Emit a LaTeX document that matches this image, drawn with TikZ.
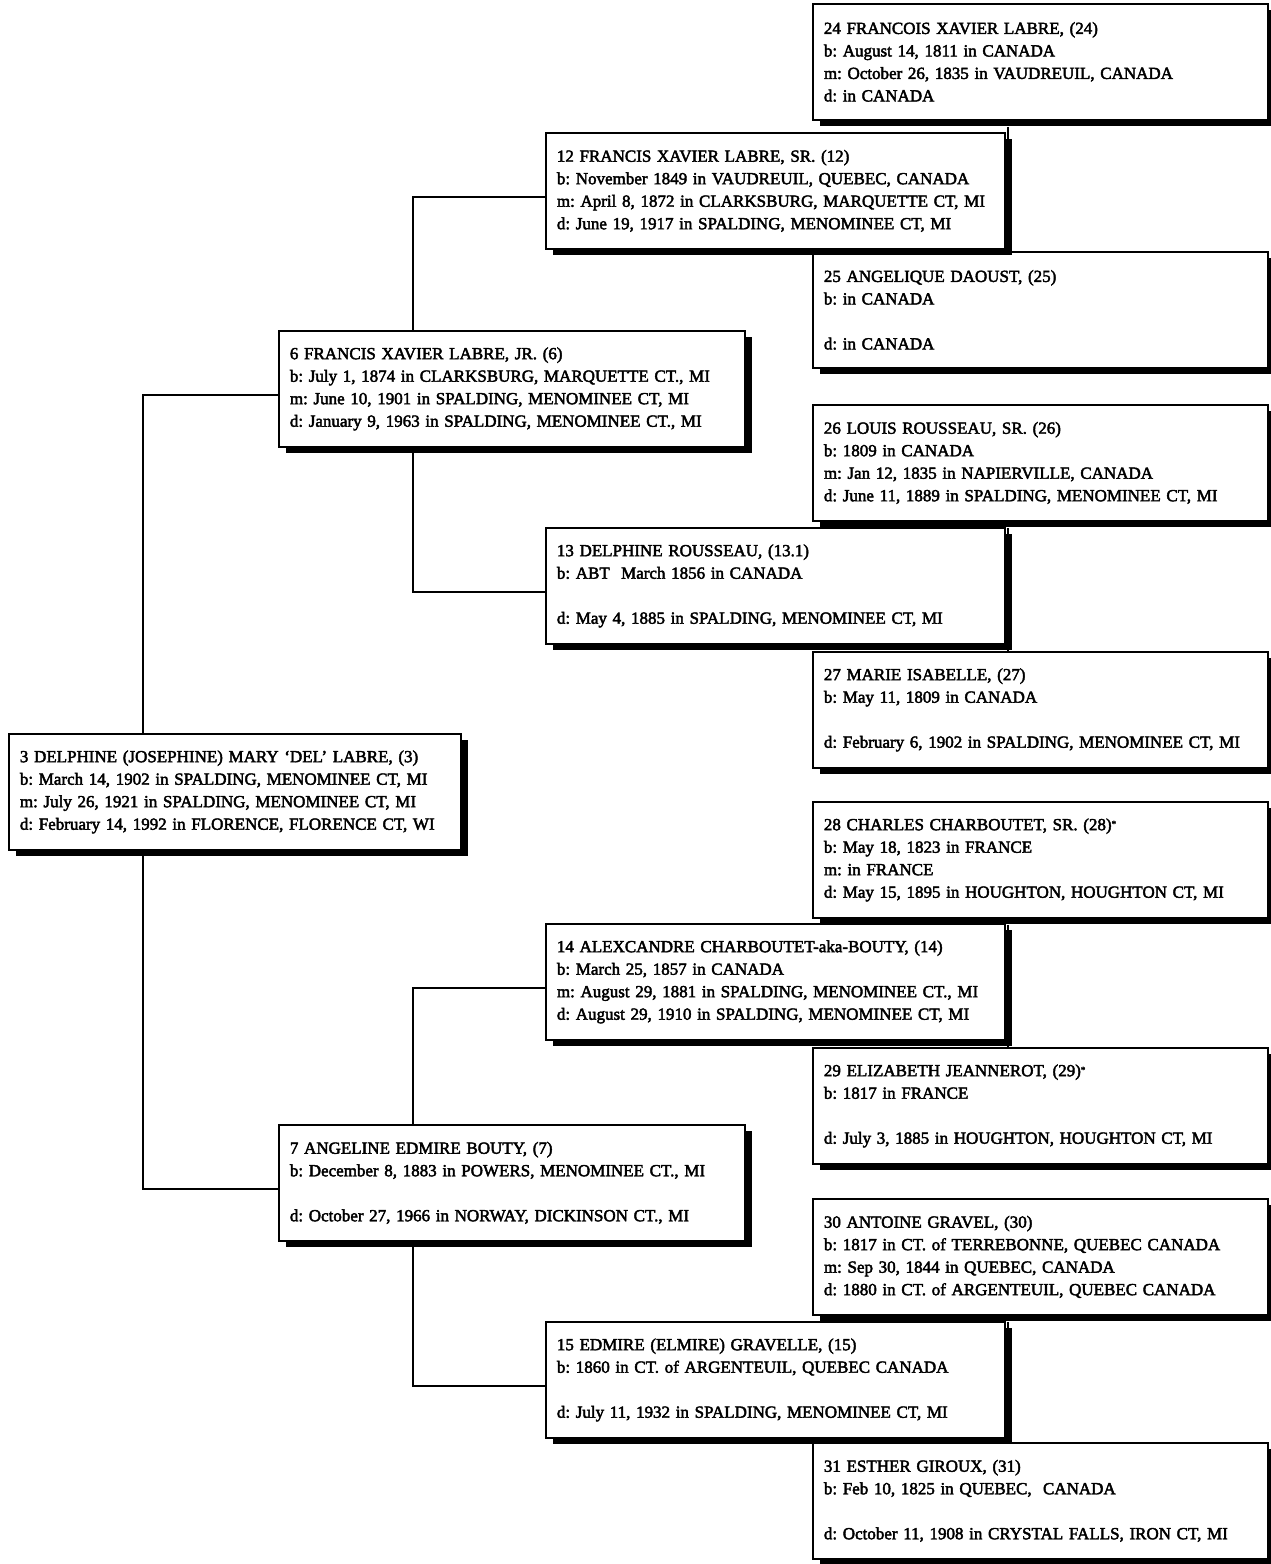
\documentclass[tikz,border=0pt]{standalone}
\usepackage{fontspec}
\usetikzlibrary{shadows,calc}
\newfontfamily\boxfont{Liberation Serif}[FakeBold=2.5]
\frenchspacing
\begin{document}
\begin{tikzpicture}[x=1pt,y=-1pt,
  pbox/.style={draw, line width=1.8pt, fill=white, anchor=north west,
    inner xsep=11pt, inner ysep=0pt, align=left, minimum height=116pt,
    font={\boxfont\frenchspacing\fontsize{17}{22.5}\selectfont},
    drop shadow={shadow xshift=7pt, shadow yshift=-6pt, opacity=1, fill=black}},
  colA/.style={pbox, text width=430pt},
  colB/.style={pbox, text width=444pt},
  colC/.style={pbox, text width=437pt},
  colD/.style={pbox, text width=433pt},
  conn/.style={line width=1.8pt}]
\useasboundingbox (0,0) rectangle (1271,1564);
\fill[white] (0,0) rectangle (1271,1564);

\coordinate (tA) at (143,0);
\coordinate (tB) at (413,0);
\coordinate (tC) at (1008,0);

\node[colD] (n24) at (812,3) {24 FRANCOIS XAVIER LABRE, (24)\\b: August 14, 1811 in CANADA\\m: October 26, 1835 in VAUDREUIL, CANADA\\d: in CANADA};
\node[colD] (n25) at (812,251) {25 ANGELIQUE DAOUST, (25)\\b: in CANADA\\\mbox{}\\d: in CANADA};
\node[colD] (n26) at (812,404) {26 LOUIS ROUSSEAU, SR. (26)\\b: 1809 in CANADA\\m: Jan 12, 1835 in NAPIERVILLE, CANADA\\d: June 11, 1889 in SPALDING, MENOMINEE CT, MI};
\node[colD] (n27) at (812,651) {27 MARIE ISABELLE, (27)\\b: May 11, 1809 in CANADA\\\mbox{}\\d: February 6, 1902 in SPALDING, MENOMINEE CT, MI};
\node[colD] (n28) at (812,801) {28 CHARLES CHARBOUTET, SR. (28)\raisebox{0.45ex}{\small *}\\b: May 18, 1823 in FRANCE\\m: in FRANCE\\d: May 15, 1895 in HOUGHTON, HOUGHTON CT, MI};
\node[colD] (n29) at (812,1047) {29 ELIZABETH JEANNEROT, (29)\raisebox{0.45ex}{\small *}\\b: 1817 in FRANCE\\\mbox{}\\d: July 3, 1885 in HOUGHTON, HOUGHTON CT, MI};
\node[colD] (n30) at (812,1198) {30 ANTOINE GRAVEL, (30)\\b: 1817 in CT. of TERREBONNE, QUEBEC CANADA\\m: Sep 30, 1844 in QUEBEC, CANADA\\d: 1880 in CT. of ARGENTEUIL, QUEBEC CANADA};
\node[colD] (n31) at (812,1442) {31 ESTHER GIROUX, (31)\\b: Feb 10, 1825 in QUEBEC,\ \ CANADA\\\mbox{}\\d: October 11, 1908 in CRYSTAL FALLS, IRON CT, MI};

\draw[conn] ([yshift=-6pt]n24.south -| tC) -- (n25.north -| tC);
\draw[conn] ([yshift=-6pt]n26.south -| tC) -- (n27.north -| tC);
\draw[conn] ([yshift=-6pt]n28.south -| tC) -- (n29.north -| tC);
\draw[conn] ([yshift=-6pt]n30.south -| tC) -- (n31.north -| tC);

\node[colC] (n12) at (545,132) {12 FRANCIS XAVIER LABRE, SR. (12)\\b: November 1849 in VAUDREUIL, QUEBEC, CANADA\\m: April 8, 1872 in CLARKSBURG, MARQUETTE CT, MI\\d: June 19, 1917 in SPALDING, MENOMINEE CT, MI};
\node[colC] (n13) at (545,527) {13 DELPHINE ROUSSEAU, (13.1)\\b: ABT\ \ March 1856 in CANADA\\\mbox{}\\d: May 4, 1885 in SPALDING, MENOMINEE CT, MI};
\node[colC] (n14) at (545,923) {14 ALEXCANDRE CHARBOUTET-aka-BOUTY, (14)\\b: March 25, 1857 in CANADA\\m: August 29, 1881 in SPALDING, MENOMINEE CT., MI\\d: August 29, 1910 in SPALDING, MENOMINEE CT, MI};
\node[colC] (n15) at (545,1321) {15 EDMIRE (ELMIRE) GRAVELLE, (15)\\b: 1860 in CT. of ARGENTEUIL, QUEBEC CANADA\\\mbox{}\\d: July 11, 1932 in SPALDING, MENOMINEE CT, MI};

\node[colB] (n6) at (278,330) {6 FRANCIS XAVIER LABRE, JR. (6)\\b: July 1, 1874 in CLARKSBURG, MARQUETTE CT., MI\\m: June 10, 1901 in SPALDING, MENOMINEE CT, MI\\d: January 9, 1963 in SPALDING, MENOMINEE CT., MI};
\node[colB] (n7) at (278,1124) {7 ANGELINE EDMIRE BOUTY, (7)\\b: December 8, 1883 in POWERS, MENOMINEE CT., MI\\\mbox{}\\d: October 27, 1966 in NORWAY, DICKINSON CT., MI};

\node[colA] (n3) at (8,733) {3 DELPHINE (JOSEPHINE) MARY ‘DEL’ LABRE, (3)\\b: March 14, 1902 in SPALDING, MENOMINEE CT, MI\\m: July 26, 1921 in SPALDING, MENOMINEE CT, MI\\d: February 14, 1992 in FLORENCE, FLORENCE CT, WI};

\draw[conn] ([yshift=-6pt]n12.west) -| (n6.north -| tB);
\draw[conn] (n6.south -| tB) |- ([yshift=-6pt]n13.west);
\draw[conn] ([yshift=-6pt]n14.west) -| (n7.north -| tB);
\draw[conn] (n7.south -| tB) |- ([yshift=-6pt]n15.west);
\draw[conn] ([yshift=-6pt]n6.west) -| (n3.north -| tA);
\draw[conn] (n3.south -| tA) |- ([yshift=-6pt]n7.west);
\end{tikzpicture}
\end{document}
